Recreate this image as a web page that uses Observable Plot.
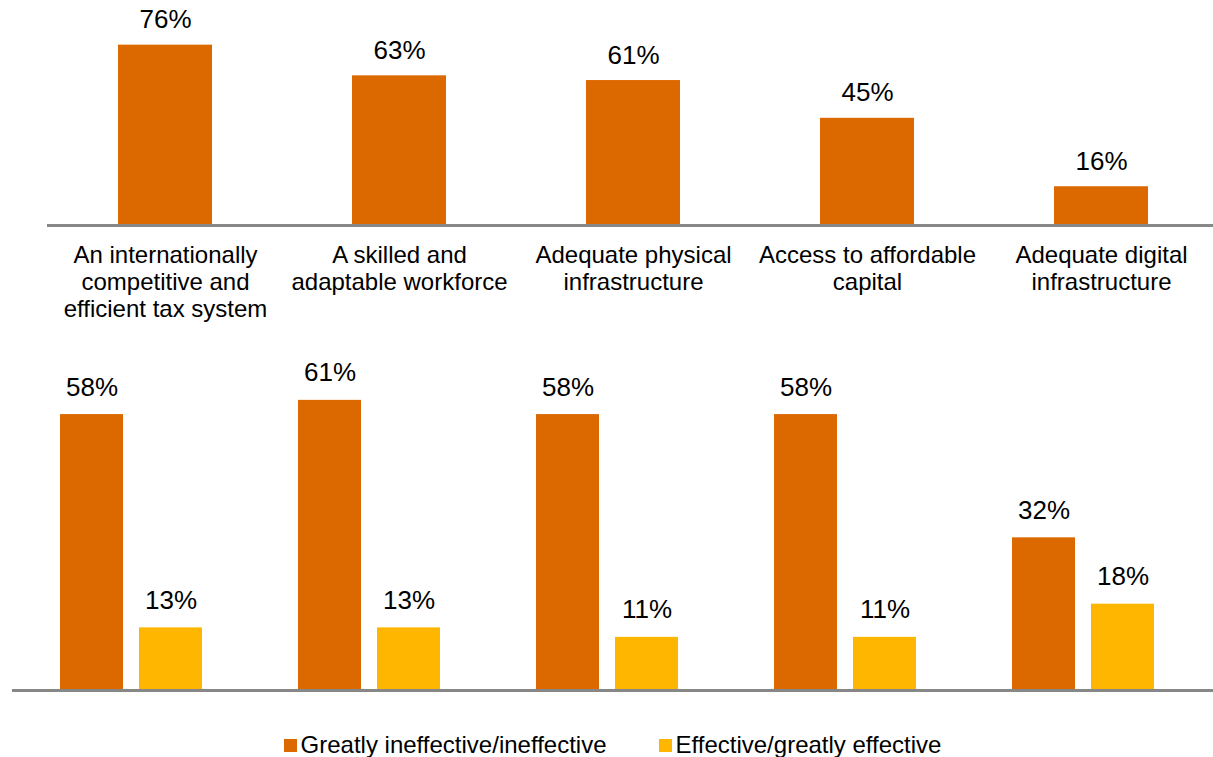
<!DOCTYPE html>
<html>
<head>
<meta charset="utf-8">
<script src="https://cdn.jsdelivr.net/npm/d3@7"></script>
<script src="https://cdn.jsdelivr.net/npm/@observablehq/plot@0.6"></script>
<style>
  body { margin: 0; background: #fff; font-family: "Liberation Sans", Arial, sans-serif; }
  #chart { width: 1213px; }
  #chart svg { display: block; }
  .legend { display: flex; justify-content: center; align-items: center; margin-top: 21px; height: 28px; font-size: 24px; color: #000; padding-left: 12px; }
  .legend .item { display: flex; align-items: center; }
  .legend .item + .item { margin-left: 52px; }
  .legend .sw { width: 13px; height: 13px; margin-right: 4px; }
</style>
</head>
<body>
<div id="chart"></div>
<script>
// ---- Data ----
const categories = [
  "An internationally competitive and efficient tax system",
  "A skilled and adaptable workforce",
  "Adequate physical infrastructure",
  "Access to affordable capital",
  "Adequate digital infrastructure"
];
const categoryLabels = [
  "An internationally\ncompetitive and\nefficient tax system",
  "A skilled and\nadaptable workforce",
  "Adequate physical\ninfrastructure",
  "Access to affordable\ncapital",
  "Adequate digital\ninfrastructure"
];
const topValues = [76, 63, 61, 45, 16];
const series = ["Greatly ineffective/ineffective", "Effective/greatly effective"];
const ineffectiveValues = [58, 61, 58, 58, 32];
const effectiveValues = [13, 13, 11, 11, 18];
const colors = ["#DC6900", "#FFB600"];

const font = '"Liberation Sans", Arial, sans-serif';
const labelOf = new Map(categories.map((c, i) => [c, categoryLabels[i]]));

const topData = categories.map((c, i) => ({ category: c, value: topValues[i] }));
const bottomData = categories.flatMap((c, i) => [
  { category: c, series: series[0], value: ineffectiveValues[i] },
  { category: c, series: series[1], value: effectiveValues[i] }
]);

const topPlot = Plot.plot({
  width: 1213, height: 340,
  marginLeft: 47, marginRight: 0, marginTop: 0, marginBottom: 115,
  style: { fontFamily: font, fontSize: "24px", color: "#000", background: "#fff", overflow: "visible" },
  x: { domain: categories, range: [47.5, 1217.5], paddingInner: 0.6, paddingOuter: 0.3, label: null },
  y: { domain: [0, 100], range: [224, -12], axis: null },
  marks: [
    Plot.barY(topData, { x: "category", y: "value", fill: colors[0] }),
    Plot.ruleY([0], { stroke: "#878787", strokeWidth: 3, dy: 1 }),
    Plot.text(topData, { x: "category", y: "value", text: d => d.value + "%", lineAnchor: "bottom", dy: -17, fontSize: 26, fill: "#000" }),
    Plot.axisX({ tickSize: 0, tickPadding: 18, tickFormat: d => labelOf.get(d), fontSize: 24, lineHeight: 1.13, label: null, fill: "#000" })
  ]
});

const bottomPlot = Plot.plot({
  width: 1213, height: 370,
  marginLeft: 13, marginRight: 0, marginTop: 0, marginBottom: 0,
  style: { fontFamily: font, fontSize: "24px", color: "#000", background: "#fff", overflow: "visible" },
  fx: { domain: categories, range: [12.5, 1202.5], paddingInner: 0.332, paddingOuter: 0.166, axis: null, label: null },
  x: { domain: series, paddingInner: 0.2, paddingOuter: 0.1, axis: null, label: null },
  y: { domain: [0, 100], range: [349, -125], axis: null },
  color: { domain: series, range: colors },
  marks: [
    Plot.barY(bottomData, { fx: "category", x: "series", y: "value", fill: "series" }),
    Plot.ruleY([0], { stroke: "#878787", strokeWidth: 3, dy: 1, insetLeft: -40, insetRight: -51 }),
    Plot.text(bottomData, { fx: "category", x: "series", y: "value", text: d => d.value + "%", lineAnchor: "bottom", dy: -19, fontSize: 26, fill: "#000" })
  ]
});

const chart = document.getElementById("chart");
chart.appendChild(topPlot);
chart.appendChild(bottomPlot);

const legend = document.createElement("div");
legend.className = "legend";
series.forEach((s, i) => {
  const item = document.createElement("div");
  item.className = "item";
  const sw = document.createElement("span");
  sw.className = "sw";
  sw.style.background = colors[i];
  const t = document.createElement("span");
  t.textContent = s;
  item.appendChild(sw);
  item.appendChild(t);
  legend.appendChild(item);
});
chart.appendChild(legend);
</script>
</body>
</html>
